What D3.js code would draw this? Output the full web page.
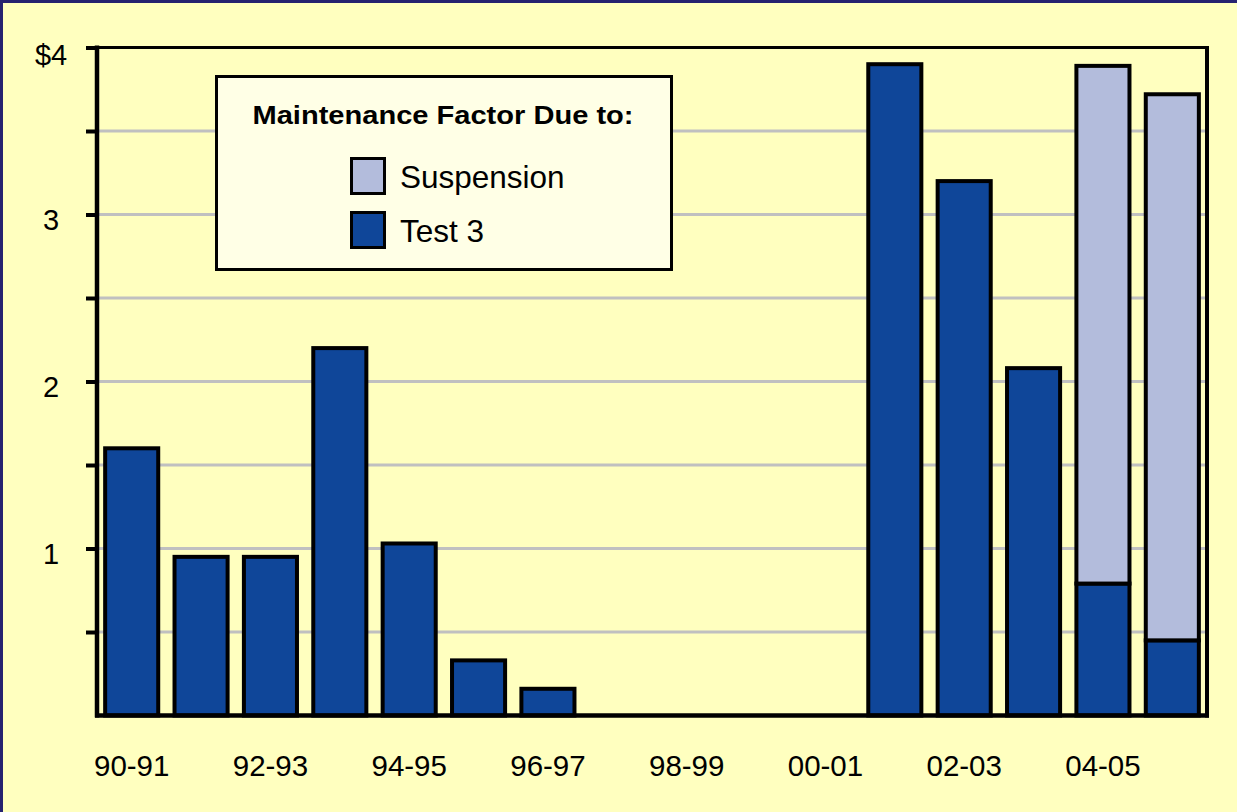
<!DOCTYPE html>
<html>
<head>
<meta charset="utf-8">
<script src="https://cdn.jsdelivr.net/npm/d3@7"></script>
<style>
  html, body { margin: 0; padding: 0; background: #FFFFBF; }
  svg { display: block; }
  text { font-family: "Liberation Sans", Arial, Helvetica, sans-serif; fill: #000; }
</style>
</head>
<body>
<svg id="chart" width="1237" height="812"></svg>
<script>
// ---- data ----
const categories = ["90-91","91-92","92-93","93-94","94-95","95-96","96-97","97-98",
                    "98-99","99-00","00-01","01-02","02-03","03-04","04-05","05-06"];
const test3      = [1.60, 0.95, 0.95, 2.20, 1.03, 0.33, 0.16, 0, 0, 0, 0, 3.90, 3.20, 2.08, 0.79, 0.45];
const suspension = [0, 0, 0, 0, 0, 0, 0, 0, 0, 0, 0, 0, 0, 0, 3.10, 3.27];
const yTicks = [0.5, 1, 1.5, 2, 2.5, 3, 3.5, 4];
const yTickLabels = {1: "1", 2: "2", 3: "3", 4: "$4"};
const legendTitle = "Maintenance Factor Due to:";
const seriesNames = ["Suspension", "Test 3"];
const colors = { "Suspension": "#B3BCDC", "Test 3": "#0F4699" };

// ---- layout ----
const W = 1237, H = 812;
const pL = 97, pR = 1207, pT = 47.5, pB = 715.5;

const svg = d3.select("#chart");
svg.append("rect").attr("width", W).attr("height", H).attr("fill", "#FFFFBF");
// outer navy border (left and top)
svg.append("rect").attr("x", 0).attr("y", 0).attr("width", 3).attr("height", H).attr("fill", "#262270");
svg.append("rect").attr("x", 0).attr("y", 0).attr("width", W).attr("height", 3).attr("fill", "#262270");

const x = d3.scaleBand().domain(categories).range([pL, pR]).paddingInner(0.235).paddingOuter(0.1175);
const y = d3.scaleLinear().domain([0, 4]).range([pB, pT]);

// gridlines
svg.append("g").selectAll("line").data(yTicks.filter(d => d < 4)).join("line")
  .attr("x1", pL).attr("x2", pR)
  .attr("y1", d => y(d)).attr("y2", d => y(d))
  .attr("stroke", "#C0C0C0").attr("stroke-width", 3);

// stacked data
const rows = categories.map((c, i) => ({ cat: c, "Test 3": test3[i], "Suspension": suspension[i] }));
const stacked = d3.stack().keys(["Test 3", "Suspension"])(rows);

svg.append("g").selectAll("g").data(stacked).join("g")
  .attr("fill", d => colors[d.key])
  .selectAll("rect")
  .data(d => d.filter(p => p[1] - p[0] > 0))
  .join("rect")
  .attr("x", d => x(d.data.cat))
  .attr("width", x.bandwidth())
  .attr("y", d => y(d[1]))
  .attr("height", d => y(d[0]) - y(d[1]))
  .attr("stroke", "#000").attr("stroke-width", 4);

// frame
svg.append("line").attr("x1", pL).attr("x2", pR).attr("y1", pT).attr("y2", pT)
  .attr("stroke", "#000").attr("stroke-width", 3);
svg.append("line").attr("x1", pR).attr("x2", pR).attr("y1", pT - 1.5).attr("y2", pB + 2)
  .attr("stroke", "#000").attr("stroke-width", 4);

// y axis
const yAxis = d3.axisLeft(y).tickValues(yTicks).tickSize(11).tickPadding(0)
  .tickFormat(d => yTickLabels[d] || "");
const gy = svg.append("g").attr("transform", `translate(${pL},0)`).call(yAxis);
gy.select(".domain").attr("d", `M0,${pT - 2}V${pB + 2}`).attr("stroke", "#000").attr("stroke-width", 4.5);
gy.selectAll(".tick line").attr("stroke", "#000").attr("stroke-width", 4);
gy.selectAll(".tick text")
  .attr("x", -46).attr("dy", null).attr("y", d => d === 4 ? 17 : 14.5)
  .attr("text-anchor", "middle")
  .style("font-size", "29px").style("font-family", "'Liberation Sans', Arial, sans-serif").attr("fill", "#000");

// x axis
const xAxis = d3.axisBottom(x).tickSize(0).tickPadding(0)
  .tickFormat((d, i) => i % 2 === 0 ? d : "");
const gx = svg.append("g").attr("transform", `translate(0,${pB})`).call(xAxis);
gx.select(".domain").attr("d", `M${pL - 2},0H${pR + 2}`).attr("stroke", "#000").attr("stroke-width", 4.5);
gx.selectAll(".tick text")
  .attr("y", 60).attr("dy", null)
  .style("font-size", "29.5px").style("font-family", "'Liberation Sans', Arial, sans-serif").attr("fill", "#000");

// legend
const lg = svg.append("g");
lg.append("rect").attr("x", 216.5).attr("y", 76.5).attr("width", 455).attr("height", 193)
  .attr("fill", "#FFFFE6").attr("stroke", "#000").attr("stroke-width", 3);
lg.append("text").attr("x", 443).attr("y", 124).attr("text-anchor", "middle")
  .attr("textLength", 381).attr("lengthAdjust", "spacingAndGlyphs")
  .style("font-size", "25.5px").style("font-weight", "bold").text(legendTitle);
const items = lg.selectAll("g.item").data(seriesNames).join("g").attr("class", "item")
  .attr("transform", (d, i) => `translate(0,${i * 54})`);
items.append("rect").attr("x", 351.5).attr("y", 158.5).attr("width", 33).attr("height", 35)
  .attr("fill", d => colors[d]).attr("stroke", "#000").attr("stroke-width", 3);
items.append("text").attr("x", 400).attr("y", 188).style("font-size", "31.5px").text(d => d);
</script>
</body>
</html>
